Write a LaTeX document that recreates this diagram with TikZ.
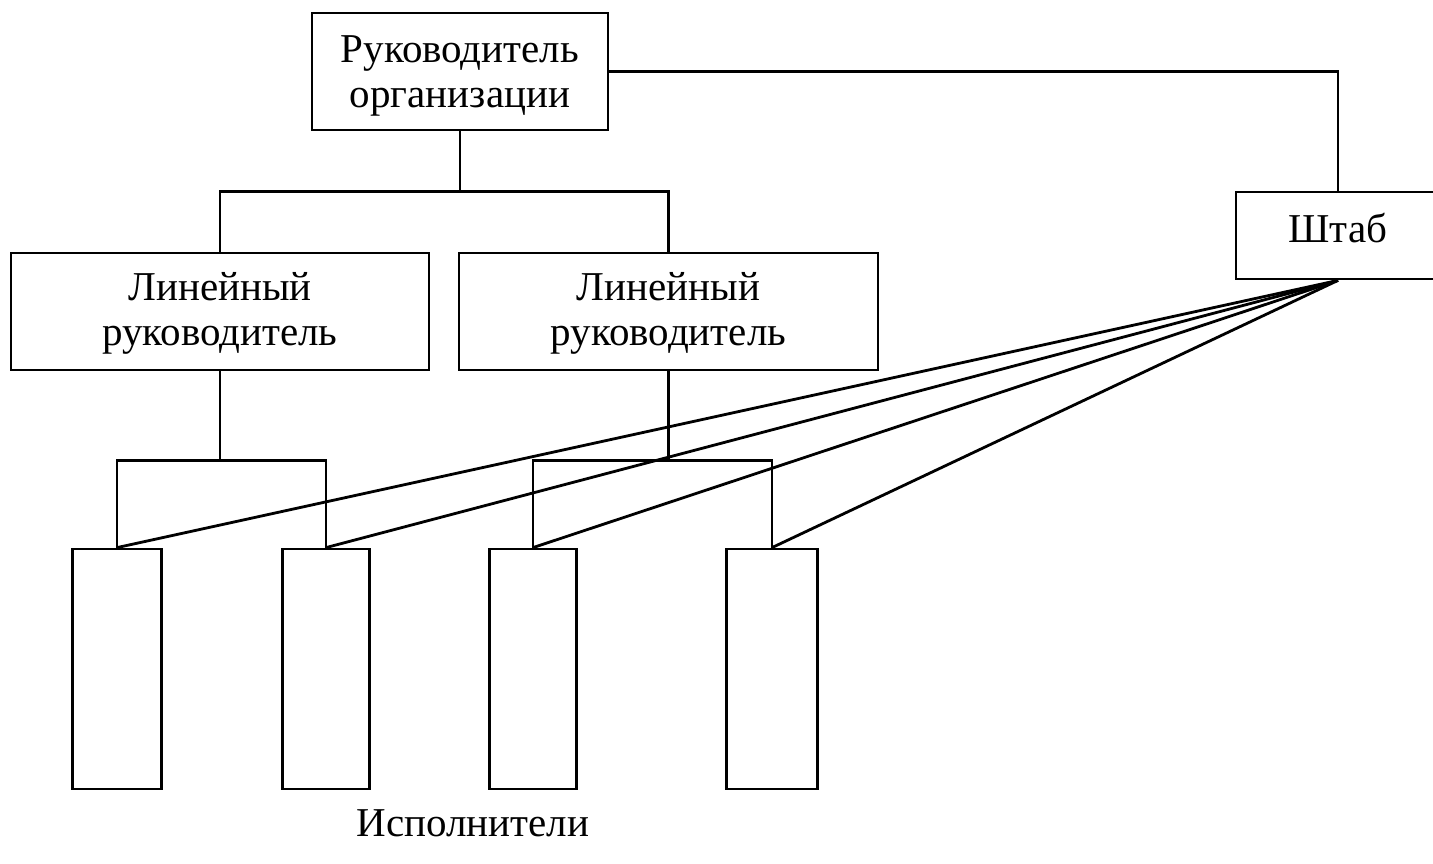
\documentclass[tikz,border=0pt]{standalone}
\usepackage{fontspec}
\setmainfont{Liberation Serif}
\begin{document}
\begin{tikzpicture}[x=1pt,y=-1pt,
  txt/.style={font=\fontsize{41}{45}\selectfont, align=center, inner sep=0pt},
  box/.style={draw, line width=2.8pt, fill=white, inner sep=0pt},
  link/.style={line width=2.8pt},
  cell/.style={draw, line width=2.8pt, inner sep=0pt, minimum height=240pt}]
\useasboundingbox (0,0) rectangle (1433,863);
% management levels
\node[box, minimum width=296pt, minimum height=117pt,
  label={[txt, yshift=-4pt]center:Руководитель\\организации}] (top) at (460,71.5) {};
\node[box, minimum width=418pt, minimum height=117pt,
  label={[txt, yshift=-2pt]center:Линейный\\руководитель}] (lr1) at (220,311.5) {};
\node[box, minimum width=419pt, minimum height=117pt,
  label={[txt, yshift=-2pt]center:Линейный\\руководитель}] (lr2) at (668.5,311.5) {};
\node[box, minimum width=204pt, minimum height=87pt,
  label={[txt, yshift=7pt]center:Штаб}] (hq) at (1338,235.5) {};
% executors
\node[cell, minimum width=89pt] (e1) at (117,669) {};
\node[cell, minimum width=87pt] (e2) at (326,669) {};
\node[cell, minimum width=87pt] (e3) at (533,669) {};
\node[cell, minimum width=91pt] (e4) at (772,669) {};
\node[txt] (lbl) at (473,823) {Исполнители};
% line subordination
\draw[link] (top.south) -- ++(0,60) -| (lr1.north);
\draw[link] (top.south) -- ++(0,60) -| (lr2.north);
\draw[link] (lr1.south) -- ++(0,89) -| (e1.north);
\draw[link] (lr1.south) -- ++(0,89) -| (e2.north);
\draw[link] (lr2.south) -- ++(0,89) -| (e3.north);
\draw[link] (lr2.south) -- ++(0,89) -| (e4.north);
% staff links
\draw[link] (top.east) -| (hq.north);
\foreach \e in {e1,e2,e3,e4}
  \draw[link] (hq.south) -- (\e.north);
\end{tikzpicture}
\end{document}
